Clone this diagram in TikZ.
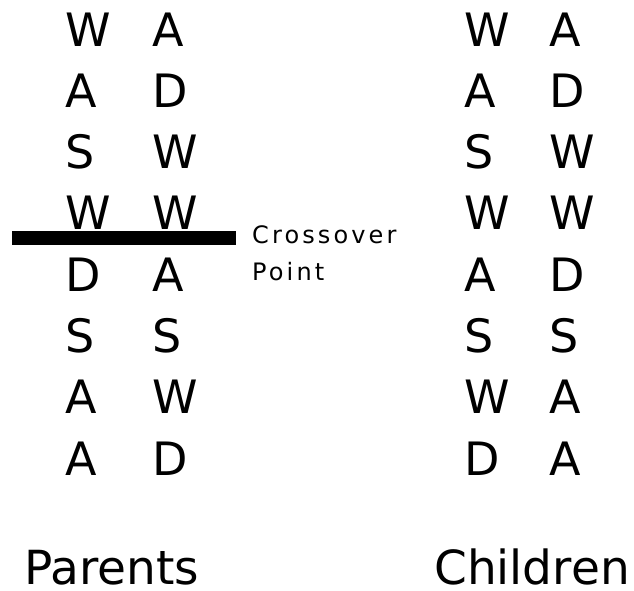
\documentclass[tikz,border=0pt]{standalone}
\usepackage{fontspec}
\setmainfont{DejaVu Sans}
\newfontfamily\spacedfont[LetterSpace=13]{DejaVu Sans}

\begin{document}
\begin{tikzpicture}[x=1pt, y=-1pt,
    gene/.style={anchor=base west, inner sep=0pt, font=\fontsize{46}{46}\selectfont},
    heading/.style={anchor=base west, inner sep=0pt, font=\fontsize{47}{47}\selectfont},
    cutlabel/.style={anchor=base west, inner sep=0pt, align=left, font=\spacedfont\fontsize{24}{37}\selectfont}]
	\useasboundingbox (0,0) rectangle (634,590);
	
	% ========== Parents ==========
	\foreach \g [count=\i] in {W,A,S,W,D,S,A,A}
		\node[gene] (pa\i) at (65, {46+(\i-1)*61.3}) {\g};
	\foreach \g [count=\i] in {A,D,W,W,A,S,W,D}
		\node[gene] (pb\i) at (152, {46+(\i-1)*61.3}) {\g};
	
	% crossover bar
	\coordinate (cutL) at (12,237.5);
	\coordinate (cutR) at (236,237.5);
	\draw[line width=14pt] (cutL) -- (cutR);
	\node[cutlabel] (cutpoint) at (252,280) {Crossover\\Point};
	
	% ========== Children ==========
	\foreach \g [count=\i] in {W,A,S,W,A,S,W,D}
		\node[gene] (ca\i) at (464, {46+(\i-1)*61.3}) {\g};
	\foreach \g [count=\i] in {A,D,W,W,D,S,A,A}
		\node[gene] (cb\i) at (549, {46+(\i-1)*61.3}) {\g};
	
	\node[heading] (parents) at (24,584) {Parents};
	\node[heading] (children) at (434,584) {Children};
\end{tikzpicture}
\end{document}
